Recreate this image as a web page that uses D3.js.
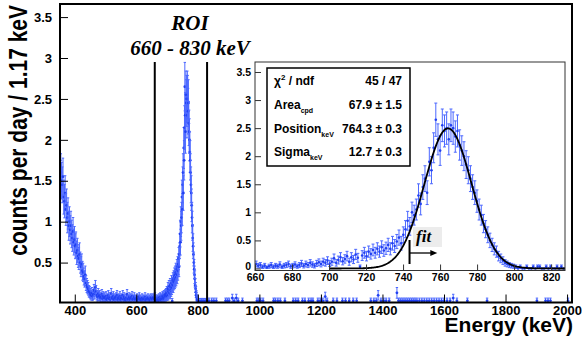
<!DOCTYPE html>
<html>
<head>
<meta charset="utf-8">
<script src="https://cdn.jsdelivr.net/npm/d3@7"></script>
<style>
  body { margin: 0; background: #fff; }
  svg text { font-family: "Liberation Sans", Arial, sans-serif; font-weight: bold; }
  .serif { font-family: "Liberation Serif", "Times New Roman", serif; font-style: italic; }
</style>
</head>
<body>
<svg id="chart" width="582" height="337"></svg>
<script>
// spectrum, counts per day per 1.17 keV bin
var binWidth = 1.17;
var cpdPerCount = 0.0331;   // one count in a bin (from 67.9 +- 1.5 cpd)

// 352 - 657 keV, read every 2 bins
var lowStart = 352.4, lowStep = 2.34;
var lowRate = [
  1.75,1.6,1.5,1.45,1.55,1.3,1.25,1.35,1.15,1.2,1.05,1.1,0.95,1.0,0.9,0.95,0.85,0.8,0.88,0.75,0.78,
  0.7,0.72,0.62,0.65,0.58,0.55,0.6,0.5,0.45,0.48,0.4,0.38,0.33,0.3,0.35,0.25,0.22,0.2,0.18,0.15,0.14,
  0.12,0.1,0.13,0.09,0.11,0.16,0.12,0.2,0.15,0.1,0.08,0.12,0.09,0.1,0.07,0.08,0.11,0.06,0.09,0.07,0.08,
  0.06,0.09,0.05,0.07,0.1,0.06,0.08,0.05,0.12,0.07,0.06,0.09,0.05,0.07,0.06,0.08,0.1,0.05,0.07,0.06,0.09,
  0.05,0.07,0.06,0.1,0.05,0.08,0.06,0.04,0.07,0.11,0.05,0.06,0.08,0.05,0.07,0.06,0.09,0.05,0.06,0.08,0.05,
  0.06,0.05,0.07,0.04,0.06,0.08,0.05,0.06,0.04,0.07,0.05,0.06,0.05,0.08,0.04,0.06,0.05,0.07,0.05,0.06,0.04,0.07,0.06,0.05,0.07,0.06
];

// ROI 660 - 830 keV, every bin
var roiStart = 660.585;
var roiRate = [
  0.08,0.05,0.06,0.03,0.05,0.02,0.04,0.06,0.03,0.05,0.04,0.07,0.03,0.05,0.06,0.08,0.04,
  0.05,0.07,0.04,0.06,0.09,0.05,0.08,0.06,0.10,0.07,0.05,0.09,0.11,0.08,0.12,0.10,0.14,0.09,
  0.12,0.18,0.10,0.15,0.20,0.13,0.17,0.22,0.12,0.20,0.16,0.25,0.19,0.03,0.23,0.28,0.22,
  0.30,0.26,0.33,0.28,0.35,0.30,0.38,0.32,0.36,0.42,0.35,0.45,0.40,0.48,0.55,0.45,0.60,
  0.70,0.85,0.75,1.00,0.95,1.05,1.30,1.15,1.45,1.60,1.35,1.90,1.75,2.15,2.65,2.30,2.10,2.55,2.45,2.50,
  2.30,2.55,2.50,2.35,2.45,2.20,2.10,2.00,1.85,1.75,1.60,1.45,1.35,1.20,1.05,0.95,0.80,0.70,0.60,0.50,
  0.42,0.35,0.30,0.22,0.18,0.14,0.10,0.08,0.06,0.05,0.04,
  0.03,0,0.03,0,0,0.03,0,0,0.03,0,0.03,0.03,0,0,0.03,0,0.03,0,0,0.03,0,0.03,0,0,0.03
];

// above the ROI only single bins are filled
var highEnergy = [836,845,852,860,890,896,902,912,918,925,931,945,992,998,1004,1012,1046,1052,1060,1068,
  1083,1110,1118,1126,1140,1148,1160,1168,1174,1190,1198,1206,1214,1220,1240,1252,1270,1280,1292,1305,
  1316,1362,1372,1380,1386,1395,1404,1412,1422,1447,1452,1458,1464,1470,1476,1482,1488,1494,1500,1506,
  1512,1520,1528,1536,1544,1552,1560,1568,1576,1584,1592,1600,1610,1620,1630,1642,1676,1740,1902,1930,
  1938,1946,2003];
var highRate = [0.033,0.033,0.033,0.033,0.033,0.033,0.033,0.066,0.033,0.066,0.033,0.033,0.033,0.033,0.033,0.033,0.033,0.033,0.033,0.033,
  0.033,0.033,0.033,0.033,0.033,0.033,0.033,0.033,0.033,0.033,0.033,0.033,0.085,0.033,0.033,0.033,0.033,0.033,0.033,0.033,
  0.033,0.033,0.033,0.033,0.1,0.033,0.033,0.033,0.033,0.13,0.033,0.033,0.033,0.033,0.033,0.033,0.033,0.033,0.033,0.033,
  0.033,0.033,0.033,0.033,0.033,0.033,0.033,0.033,0.033,0.033,0.033,0.033,0.033,0.033,0.066,0.033,0.033,0.033,0.033,0.033,
  0.033,0.033,0.033];

// gaussian fit shown in the box
var fitArea = 67.9, fitPos = 764.3, fitSigma = 12.7;
var fitFrom = 743.5, fitArrowTo = 758.5;
var statLabels = ["χ", "Area", "Position", "Sigma"];
var statSubs = ["", "cpd", "keV", "keV"];
var statValues = ["45 / 47", "67.9 ± 1.5", "764.3 ± 0.3", "12.7 ± 0.3"];

var roiLow = 660, roiHigh = 830;
var mainXTicks = [400, 600, 800, 1000, 1200, 1400, 1600, 1800, 2000];
var mainYTicks = [0.5, 1, 1.5, 2, 2.5, 3, 3.5];
var insetXTicks = [660, 680, 700, 720, 740, 760, 780, 800, 820];
var insetYTicks = [0, 0.5, 1, 1.5, 2, 2.5, 3, 3.5];

var markColor = "#2140f2", errColor = "#4c68ff";

var svg = d3.select("#chart");

var xMain = d3.scaleLinear().domain([352, 2016]).range([60, 572]);
var yMain = d3.scaleLinear().domain([0, 3.66]).range([303.5, 4]);
var xIn = d3.scaleLinear().domain([660, 827.5]).range([255, 565]);
var yIn = d3.scaleLinear().domain([-0.036, 3.678]).range([270.5, 62]);

var lowPts = lowRate.map(function (v, i) { return { e: lowStart + i * lowStep, v: v }; });
var roiPts = roiRate.map(function (v, i) { return { e: roiStart + i * binWidth, v: v }; });
var highPts = highEnergy.map(function (e, i) { return { e: e, v: highRate[i] }; });

function err(v) { return Math.sqrt(v * cpdPerCount); }

function drawPoints(g, pts, x, y, r, cap) {
  var pt = g.selectAll("g.pt").data(pts).join("g").attr("class", "pt");
  pt.append("line")
    .attr("x1", d => x(d.e)).attr("x2", d => x(d.e))
    .attr("y1", d => y(Math.max(0, d.v - err(d.v)))).attr("y2", d => y(d.v + err(d.v)))
    .attr("stroke", errColor).attr("stroke-width", 1);
  [-1, 1].forEach(function (s) {
    pt.filter(d => d.v > 0).append("line")
      .attr("x1", d => x(d.e) - cap).attr("x2", d => x(d.e) + cap)
      .attr("y1", d => y(Math.max(0, d.v + s * err(d.v)))).attr("y2", d => y(Math.max(0, d.v + s * err(d.v))))
      .attr("stroke", errColor).attr("stroke-width", 1);
  });
  pt.append("circle")
    .attr("cx", d => x(d.e)).attr("cy", d => y(d.v)).attr("r", r)
    .attr("fill", markColor);
}

// ---- main pad
svg.append("clipPath").attr("id", "clipMain")
  .append("rect").attr("x", 60).attr("y", 4).attr("width", 512).attr("height", 298.5);

var gMain = svg.append("g").attr("clip-path", "url(#clipMain)");
drawPoints(gMain, lowPts.concat(roiPts.filter(d => d.v > 0), highPts), xMain, yMain, 1.4, 1.2);

// ROI limits
gMain.selectAll("line.roi").data([roiLow, roiHigh]).join("line").attr("class", "roi")
  .attr("x1", d => xMain(d)).attr("x2", d => xMain(d))
  .attr("y1", 62).attr("y2", yMain(0))
  .attr("stroke", "#000").attr("stroke-width", 2);

svg.append("text").attr("class", "serif").attr("x", 190).attr("y", 30)
  .attr("text-anchor", "middle").attr("font-size", 21).text("ROI");
svg.append("text").attr("class", "serif").attr("x", 190).attr("y", 55)
  .attr("text-anchor", "middle").attr("font-size", 21).text("660 - 830 keV");

// axes of main pad
var axX = svg.append("g").attr("transform", "translate(0,302.5)");
axX.call(d3.axisBottom(xMain).tickValues(d3.range(400, 2001, 50)).tickSize(-4).tickFormat(""));
axX.call(d3.axisBottom(xMain).tickValues(mainXTicks).tickSize(-8).tickPadding(3).tickFormat(d3.format("d")));
var axY = svg.append("g").attr("transform", "translate(60,0)");
axY.call(d3.axisLeft(yMain).tickValues(d3.range(0.1, 3.65, 0.1)).tickSize(-4).tickFormat(""));
axY.call(d3.axisLeft(yMain).tickValues(mainYTicks).tickSize(-8).tickPadding(8).tickFormat(d3.format("")));
[axX, axY].forEach(function (a) {
  a.selectAll(".domain").remove();
  a.selectAll(".tick line").attr("stroke", "#000").attr("stroke-width", 1);
  a.selectAll(".tick text").attr("font-size", 13).attr("fill", "#000");
});

svg.append("rect").attr("x", 60).attr("y", 4).attr("width", 512).attr("height", 298.5)
  .attr("fill", "none").attr("stroke", "#000").attr("stroke-width", 2);

// title glyphs are taller than wide in the reference
svg.append("text").attr("transform", "translate(27,5) rotate(-90) scale(1,1.22)")
  .attr("text-anchor", "end").attr("font-size", 21)
  .text("counts per day / 1.17 keV");
svg.append("text").attr("x", 573).attr("y", 332).attr("text-anchor", "end")
  .attr("font-size", 21).text("Energy (keV)");

// ---- inset
svg.append("rect").attr("x", 227).attr("y", 57).attr("width", 344).attr("height", 230).attr("fill", "#fff");

svg.append("clipPath").attr("id", "clipIn")
  .append("rect").attr("x", 255).attr("y", 62).attr("width", 310).attr("height", 208.5);
var gIn = svg.append("g").attr("clip-path", "url(#clipIn)");
drawPoints(gIn, roiPts, xIn, yIn, 1.3, 1.5);

var fitLine = d3.line()
  .x(d => xIn(d))
  .y(d => yIn(fitArea * binWidth / (Math.sqrt(2 * Math.PI) * fitSigma) *
              Math.exp(-Math.pow(d - fitPos, 2) / (2 * fitSigma * fitSigma))));
gIn.append("path").datum(d3.range(700, 830.1, 0.5))
  .attr("d", fitLine).attr("fill", "none").attr("stroke", "#000").attr("stroke-width", 1.8);

var axXi = svg.append("g").attr("transform", "translate(0,270.5)");
axXi.call(d3.axisBottom(xIn).tickValues(d3.range(660, 828, 5)).tickSize(-3).tickFormat(""));
axXi.call(d3.axisBottom(xIn).tickValues(insetXTicks).tickSize(-6).tickPadding(3).tickFormat(d3.format("d")));
var axYi = svg.append("g").attr("transform", "translate(255,0)");
axYi.call(d3.axisLeft(yIn).tickValues(d3.range(0, 3.65, 0.1)).tickSize(-3).tickFormat(""));
axYi.call(d3.axisLeft(yIn).tickValues(insetYTicks).tickSize(-6).tickPadding(4).tickFormat(d3.format("")));
[axXi, axYi].forEach(function (a) {
  a.selectAll(".domain").remove();
  a.selectAll(".tick line").attr("stroke", "#333").attr("stroke-width", 1);
  a.selectAll(".tick text").attr("font-size", 10.5).attr("fill", "#000");
});
// the 0 label sits slightly higher so it clears the 660 label
axYi.selectAll(".tick text").filter(d => d === 0).attr("dy", "0.1em");
svg.append("rect").attr("x", 255).attr("y", 62).attr("width", 310).attr("height", 208.5)
  .attr("fill", "none").attr("stroke", "#333").attr("stroke-width", 1);

// fit range marker
svg.append("line").attr("x1", xIn(fitFrom)).attr("x2", xIn(fitFrom)).attr("y1", 240).attr("y2", 264)
  .attr("stroke", "#000").attr("stroke-width", 2);
svg.append("line").attr("x1", xIn(fitFrom)).attr("x2", xIn(fitArrowTo) - 5).attr("y1", 253).attr("y2", 253)
  .attr("stroke", "#000").attr("stroke-width", 1.3);
svg.append("path")
  .attr("d", "M" + xIn(fitArrowTo) + ",253 l-7,-3 v6 z").attr("fill", "#000");
svg.append("rect").attr("x", 413).attr("y", 227).attr("width", 29).attr("height", 20).attr("fill", "#ececec");
svg.append("text").attr("class", "serif").attr("x", 416).attr("y", 242)
  .attr("font-size", 17).text("fit");

// stats box
svg.append("rect").attr("x", 267).attr("y", 68).attr("width", 143).attr("height", 98)
  .attr("fill", "#fff").attr("stroke", "#000").attr("stroke-width", 1.5);
var rowY = [85, 109, 133, 156];
statLabels.forEach(function (lab, i) {
  var t = svg.append("text").attr("x", 274).attr("y", rowY[i]).attr("font-size", 12);
  t.append("tspan").text(lab);
  if (i === 0) {
    t.append("tspan").attr("font-size", 8).attr("dy", -5).text("2");
    t.append("tspan").attr("dy", 5).text(" / ndf");
  } else {
    t.append("tspan").attr("font-size", 7).attr("dy", 4).text(statSubs[i]);
  }
  svg.append("text").attr("x", 402).attr("y", rowY[i]).attr("text-anchor", "end")
    .attr("font-size", 12).text(statValues[i]);
});
</script>
</body>
</html>
